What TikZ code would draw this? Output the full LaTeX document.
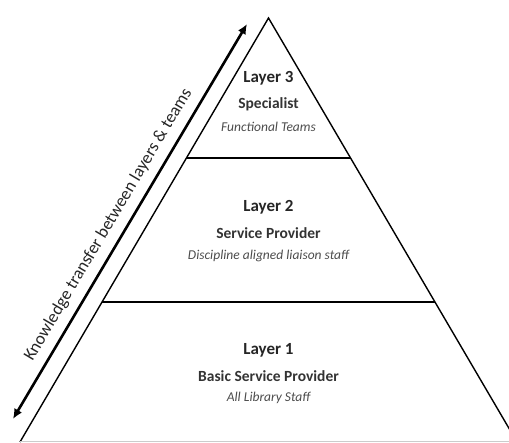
\documentclass[tikz,border=0pt]{standalone}
\usepackage{fontspec}
\setmainfont{Carlito}
\usetikzlibrary{calc,arrows.meta}

\begin{document}
\begin{tikzpicture}[x=1pt,y=1pt,yscale=-1,xscale=1,
  edge/.style={line width=1.4pt},
  divider/.style={line width=1.8pt},
  transfer/.style={line width=2.6pt,{Latex[length=10pt,width=9pt]}-{Latex[length=10pt,width=9pt]}},
  layertitle/.style={font=\bfseries\fontsize{17}{20}\selectfont,text=black!85,inner sep=0.75pt},
  layerrole/.style={font=\bfseries\fontsize{15.5}{18}\selectfont,text=black!80,inner sep=0.75pt},
  layerteam/.style={font=\itshape\fontsize{13.5}{16}\selectfont,text=black!70,inner sep=0.75pt}]
\useasboundingbox (0,0) rectangle (509,443);
\clip (0,0) rectangle (509,443);

%Corners
\coordinate (apex) at (268.5,18);
\coordinate (bl) at (20,442);
\coordinate (br) at (517,442);
\coordinate (cut3l) at ($(apex)!0.330!(bl)$);
\coordinate (cut3r) at ($(apex)!0.330!(br)$);
\coordinate (cut2l) at ($(apex)!0.669!(bl)$);
\coordinate (cut2r) at ($(apex)!0.669!(br)$);

%Pyramid
\draw [edge] (bl) -- (apex) -- (br) ;
\draw [gray!40, line width=1pt] (bl) -- (br) ;
\draw [divider] (cut3l) -- (cut3r) ;
\draw [divider] (cut2l) -- (cut2r) ;

%Arrow
\coordinate (arrlo) at (13,419);
\coordinate (arrhi) at (247,24);
\draw [transfer] (arrlo) -- (arrhi) ;
% Text Node
\node [rotate=59.4, font=\fontsize{17.5}{20}\selectfont, text=black!85, inner sep=0.75pt] (transferlabel)
  at ($(arrlo)!0.47!(arrhi) + (-14.6,-8.6)$) {Knowledge transfer between layers \& teams};

% Text Node
\node [layertitle] (title3) at (268.5,78) {Layer 3};
\node [layerrole] (role3) at (268.5,104) {Specialist};
\node [layerteam] (team3) at (268.5,127) {Functional Teams};
% Text Node
\node [layertitle] (title2) at (268.5,207) {Layer 2};
\node [layerrole] (role2) at (268.5,233) {Service Provider};
\node [layerteam] (team2) at (268.5,256) {Discipline aligned liaison staff};
% Text Node
\node [layertitle] (title1) at (268.5,350) {Layer 1};
\node [layerrole] (role1) at (268.5,376) {Basic Service Provider};
\node [layerteam] (team1) at (268.5,398) {All Library Staff};

\end{tikzpicture}
\end{document}
